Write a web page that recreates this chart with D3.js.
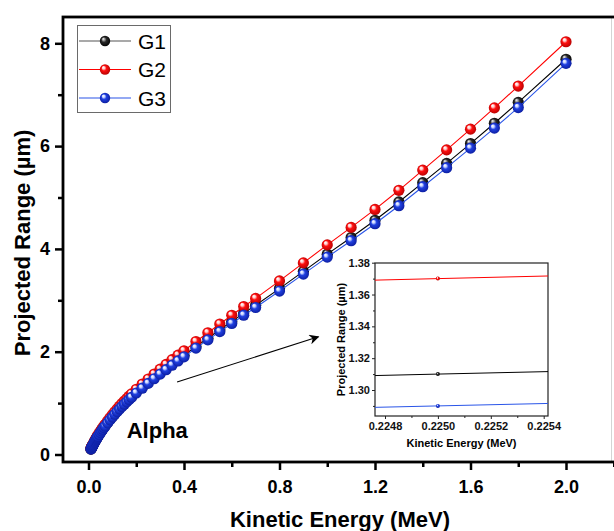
<!DOCTYPE html>
<html>
<head>
<meta charset="utf-8">
<script src="https://cdn.jsdelivr.net/npm/d3@7"></script>
<style>
  body { margin: 0; background: #fff; }
  svg { display: block; font-family: Arial, "Liberation Sans", sans-serif; }
</style>
</head>
<body>
<svg id="chart" width="614" height="531"></svg>
<script>
// Kinetic energy (MeV) - SRIM style energy steps
const energy = [0.010, 0.011, 0.012, 0.013, 0.014, 0.015, 0.016, 0.017, 0.018, 0.020,
  0.0225, 0.025, 0.0275, 0.030, 0.0325, 0.035, 0.0375, 0.040, 0.045, 0.050,
  0.055, 0.060, 0.065, 0.070, 0.080, 0.090, 0.100, 0.110, 0.120, 0.130,
  0.140, 0.150, 0.160, 0.170, 0.180, 0.200, 0.225, 0.250, 0.275, 0.300,
  0.325, 0.350, 0.375, 0.400, 0.450, 0.500, 0.550, 0.600, 0.650, 0.700,
  0.800, 0.900, 1.000, 1.100, 1.200, 1.300, 1.400, 1.500, 1.600, 1.700,
  1.800, 2.000];

// Projected range (um)
const g1 = [0.106, 0.115, 0.124, 0.134, 0.143, 0.152, 0.161, 0.171, 0.180, 0.198,
  0.219, 0.241, 0.262, 0.282, 0.302, 0.322, 0.341, 0.359, 0.396, 0.431,
  0.466, 0.499, 0.532, 0.563, 0.624, 0.683, 0.740, 0.795, 0.848, 0.898,
  0.947, 0.994, 1.039, 1.084, 1.128, 1.213, 1.310, 1.404, 1.496, 1.586,
  1.675, 1.763, 1.847, 1.929, 2.101, 2.263, 2.426, 2.588, 2.751, 2.903,
  3.228, 3.563, 3.898, 4.222, 4.557, 4.913, 5.288, 5.664, 6.049, 6.445,
  6.851, 7.690];

const g2 = [0.110, 0.120, 0.130, 0.140, 0.150, 0.159, 0.169, 0.178, 0.188, 0.207,
  0.229, 0.252, 0.274, 0.295, 0.316, 0.337, 0.357, 0.376, 0.414, 0.451,
  0.487, 0.523, 0.556, 0.589, 0.653, 0.715, 0.774, 0.832, 0.887, 0.940,
  0.991, 1.040, 1.087, 1.134, 1.180, 1.269, 1.370, 1.469, 1.565, 1.660,
  1.752, 1.845, 1.933, 2.018, 2.198, 2.368, 2.538, 2.708, 2.878, 3.037,
  3.377, 3.728, 4.078, 4.418, 4.768, 5.140, 5.533, 5.926, 6.330, 6.744,
  7.168, 8.030];

const g3 = [0.104, 0.113, 0.122, 0.132, 0.141, 0.150, 0.159, 0.168, 0.177, 0.195,
  0.216, 0.237, 0.258, 0.278, 0.298, 0.317, 0.336, 0.354, 0.390, 0.425,
  0.459, 0.492, 0.524, 0.555, 0.615, 0.673, 0.729, 0.783, 0.835, 0.885,
  0.933, 0.979, 1.024, 1.068, 1.111, 1.195, 1.290, 1.383, 1.474, 1.563,
  1.650, 1.737, 1.820, 1.900, 2.070, 2.230, 2.390, 2.550, 2.710, 2.860,
  3.180, 3.510, 3.840, 4.160, 4.490, 4.840, 5.210, 5.580, 5.960, 6.350,
  6.750, 7.610];

const seriesNames = ["G1", "G2", "G3"];

// Tick values
const xMajor = [0, 0.4, 0.8, 1.2, 1.6, 2.0];
const xMinor = [0.2, 0.6, 1.0, 1.4, 1.8, 2.2];
const yMajor = [0, 2, 4, 6, 8];
const yMinor = [1, 3, 5, 7];
const insetXMajor = [0.2248, 0.2250, 0.2252, 0.2254];
const insetXMinor = [0.2249, 0.2251, 0.2253];
const insetYMajor = [1.30, 1.32, 1.34, 1.36, 1.38];
const insetYMinor = [1.29, 1.31, 1.33, 1.35, 1.37];

const series = [
  { name: seriesNames[0], values: g1, line: "#000000", light: "#9a9a9a", mid: "#2a2a2a", dark: "#000000" },
  { name: seriesNames[1], values: g2, line: "#ff0000", light: "#ffd0d0", mid: "#ff1010", dark: "#b00000" },
  { name: seriesNames[2], values: g3, line: "#2a55e8", light: "#c8d4ff", mid: "#2040e0", dark: "#0a1a9a" }
];

const svg = d3.select("#chart");
const font = "Arial, 'Liberation Sans', sans-serif";

// Frame
const frame = { left: 63, top: 17, right: 626, bottom: 462 };

const x = d3.scaleLinear().domain([0, 2]).range([88.5, 566]);
const y = d3.scaleLinear().domain([0, 8]).range([454.5, 43.3]);

// Sphere gradients
const defs = svg.append("defs");
series.forEach(s => {
  const g = defs.append("radialGradient")
    .attr("id", "ball-" + s.name)
    .attr("cx", "50%").attr("cy", "50%").attr("r", "55%")
    .attr("fx", "32%").attr("fy", "28%");
  g.append("stop").attr("offset", "0%").attr("stop-color", "#ffffff");
  g.append("stop").attr("offset", "22%").attr("stop-color", s.light);
  g.append("stop").attr("offset", "45%").attr("stop-color", s.mid);
  g.append("stop").attr("offset", "100%").attr("stop-color", s.dark);
});

defs.append("clipPath").attr("id", "clipMain")
  .append("rect")
  .attr("x", frame.left).attr("y", frame.top)
  .attr("width", frame.right - frame.left).attr("height", frame.bottom - frame.top);

defs.append("marker")
  .attr("id", "arrowHead")
  .attr("viewBox", "0 0 10 10")
  .attr("refX", 9).attr("refY", 5)
  .attr("markerWidth", 14).attr("markerHeight", 10)
  .attr("markerUnits", "userSpaceOnUse")
  .attr("orient", "auto")
  .append("path")
  .attr("d", "M0,0 L10,5 L0,10 L3,5 Z")
  .attr("fill", "#000");

// Axes
const yAxis = svg.append("g")
  .attr("transform", `translate(${frame.left},0)`)
  .call(d3.axisLeft(y).tickValues(yMajor).tickSize(8).tickPadding(5).tickFormat(d3.format("d")));
svg.append("g")
  .attr("transform", `translate(${frame.left},0)`)
  .call(d3.axisLeft(y).tickValues(yMinor).tickSize(5).tickFormat(""));

const xAxis = svg.append("g")
  .attr("transform", `translate(0,${frame.bottom})`)
  .call(d3.axisBottom(x).tickValues(xMajor).tickSize(8).tickPadding(10).tickFormat(d3.format(".1f")));
svg.append("g")
  .attr("transform", `translate(0,${frame.bottom})`)
  .call(d3.axisBottom(x).tickValues(xMinor).tickSize(5).tickFormat(""));

svg.selectAll(".domain").remove();
svg.selectAll(".tick line").attr("stroke", "#000").attr("stroke-width", 2.5);
svg.selectAll(".tick text")
  .attr("fill", "#000")
  .style("font-family", font)
  .style("font-size", "18px")
  .style("font-weight", "bold");

// light right edge
svg.append("line")
  .attr("x1", 611.5).attr("x2", 611.5)
  .attr("y1", frame.top).attr("y2", frame.bottom)
  .attr("stroke", "#d4d4d4").attr("stroke-width", 1);

// Frame lines
svg.append("rect")
  .attr("x", frame.left).attr("y", frame.top)
  .attr("width", frame.right - frame.left).attr("height", frame.bottom - frame.top)
  .attr("fill", "none")
  .attr("stroke", "#000")
  .attr("stroke-width", 2.8);

// Curves
const plot = svg.append("g").attr("clip-path", "url(#clipMain)");
const line = d3.line()
  .x((d, i) => x(energy[i]))
  .y(d => y(d));

series.forEach(s => {
  plot.append("path")
    .datum(s.values)
    .attr("d", line)
    .attr("fill", "none")
    .attr("stroke", s.line)
    .attr("stroke-width", 1.1);
  plot.selectAll(null)
    .data(s.values)
    .enter()
    .append("circle")
    .attr("cx", (d, i) => x(energy[i]))
    .attr("cy", d => y(d))
    .attr("r", 5.6)
    .attr("fill", `url(#ball-${s.name})`);
});

// Legend
const legend = svg.append("g");
legend.append("rect")
  .attr("x", 77.5).attr("y", 25.5)
  .attr("width", 93).attr("height", 87)
  .attr("fill", "#fff")
  .attr("stroke", "#6a6a6a")
  .attr("stroke-width", 1);

const legendRows = legend.selectAll(".row")
  .data(series)
  .enter().append("g")
  .attr("class", "row")
  .attr("transform", (d, i) => `translate(0,${41 + i * 28.5})`);

legendRows.append("line")
  .attr("x1", 79).attr("x2", 131)
  .attr("stroke", (d, i) => i === 0 ? "#555" : d.line)
  .attr("stroke-width", 1.1);
legendRows.append("circle")
  .attr("cx", 105).attr("r", 5.2)
  .attr("fill", d => `url(#ball-${d.name})`);
legendRows.append("text")
  .attr("x", 138).attr("y", 7.5)
  .style("font-family", font)
  .style("font-size", "21px")
  .text(d => d.name);

// Axis titles
svg.append("text")
  .attr("x", 340).attr("y", 527)
  .attr("text-anchor", "middle")
  .style("font-family", font)
  .style("font-size", "22px")
  .style("font-weight", "bold")
  .text("Kinetic Energy (MeV)");

svg.append("text")
  .attr("transform", "translate(30,243) rotate(-90)")
  .attr("text-anchor", "middle")
  .style("font-family", font)
  .style("font-size", "22px")
  .style("font-weight", "bold")
  .text("Projected Range (µm)");

// Annotation
svg.append("text")
  .attr("x", x(0.16)).attr("y", y(0.32))
  .style("font-family", font)
  .style("font-size", "22px")
  .style("font-weight", "bold")
  .text("Alpha");

svg.append("line")
  .attr("x1", x(0.371)).attr("y1", y(1.41))
  .attr("x2", x(0.963)).attr("y2", y(2.29))
  .attr("stroke", "#000")
  .attr("stroke-width", 1.1)
  .attr("marker-end", "url(#arrowHead)");

// Inset
const inset = { left: 375, top: 263, right: 548, bottom: 416 };
const xi = d3.scaleLinear().domain([0.2248, 0.2254]).range([385, 543.7]);
const yi = d3.scaleLinear().domain([1.30, 1.38]).range([390, 262.7]);

defs.append("clipPath").attr("id", "clipInset")
  .append("rect")
  .attr("x", inset.left).attr("y", inset.top)
  .attr("width", inset.right - inset.left).attr("height", inset.bottom - inset.top);

const insetG = svg.append("g").attr("class", "inset");

insetG.append("g")
  .attr("transform", `translate(${inset.left},0)`)
  .call(d3.axisLeft(yi).tickValues(insetYMajor).tickSize(3).tickPadding(2).tickFormat(d3.format(".2f")));
insetG.append("g")
  .attr("transform", `translate(${inset.left},0)`)
  .call(d3.axisLeft(yi).tickValues(insetYMinor).tickSize(2).tickFormat(""));
insetG.append("g")
  .attr("transform", `translate(0,${inset.bottom})`)
  .call(d3.axisBottom(xi).tickValues(insetXMajor).tickSize(3).tickPadding(3).tickFormat(d3.format(".4f")));
insetG.append("g")
  .attr("transform", `translate(0,${inset.bottom})`)
  .call(d3.axisBottom(xi).tickValues(insetXMinor).tickSize(2).tickFormat(""));

insetG.selectAll(".domain").remove();
insetG.selectAll(".tick line").attr("stroke", "#222").attr("stroke-width", 1);
insetG.selectAll(".tick text")
  .attr("fill", "#111")
  .style("font-family", font)
  .style("font-size", "11px")
  .style("font-weight", "bold");

insetG.append("rect")
  .attr("x", inset.left).attr("y", inset.top)
  .attr("width", inset.right - inset.left).attr("height", inset.bottom - inset.top)
  .attr("fill", "none")
  .attr("stroke", "#222")
  .attr("stroke-width", 1.2);

const insetPlot = insetG.append("g").attr("clip-path", "url(#clipInset)");
const lineInset = d3.line()
  .x((d, i) => xi(energy[i]))
  .y(d => yi(d))
  .defined((d, i) => energy[i] >= 0.2 && energy[i] <= 0.25);

series.forEach(s => {
  insetPlot.append("path")
    .datum(s.values)
    .attr("d", lineInset)
    .attr("fill", "none")
    .attr("stroke", s.line)
    .attr("stroke-width", 1);
  insetPlot.selectAll(null)
    .data(s.values.filter((d, i) => energy[i] >= 0.2248 && energy[i] <= 0.2254))
    .enter()
    .append("circle")
    .attr("cx", xi(0.225))
    .attr("cy", d => yi(d))
    .attr("r", 2)
    .attr("fill", `url(#ball-${s.name})`);
});

insetG.append("text")
  .attr("x", (inset.left + inset.right) / 2).attr("y", 447)
  .attr("text-anchor", "middle")
  .style("font-family", font)
  .style("font-size", "11px")
  .style("font-weight", "bold")
  .text("Kinetic Energy (MeV)");

insetG.append("text")
  .attr("transform", `translate(345,${(inset.top + inset.bottom) / 2}) rotate(-90)`)
  .attr("text-anchor", "middle")
  .style("font-family", font)
  .style("font-size", "11px")
  .style("font-weight", "bold")
  .text("Projected Range (µm)");
</script>
</body>
</html>
